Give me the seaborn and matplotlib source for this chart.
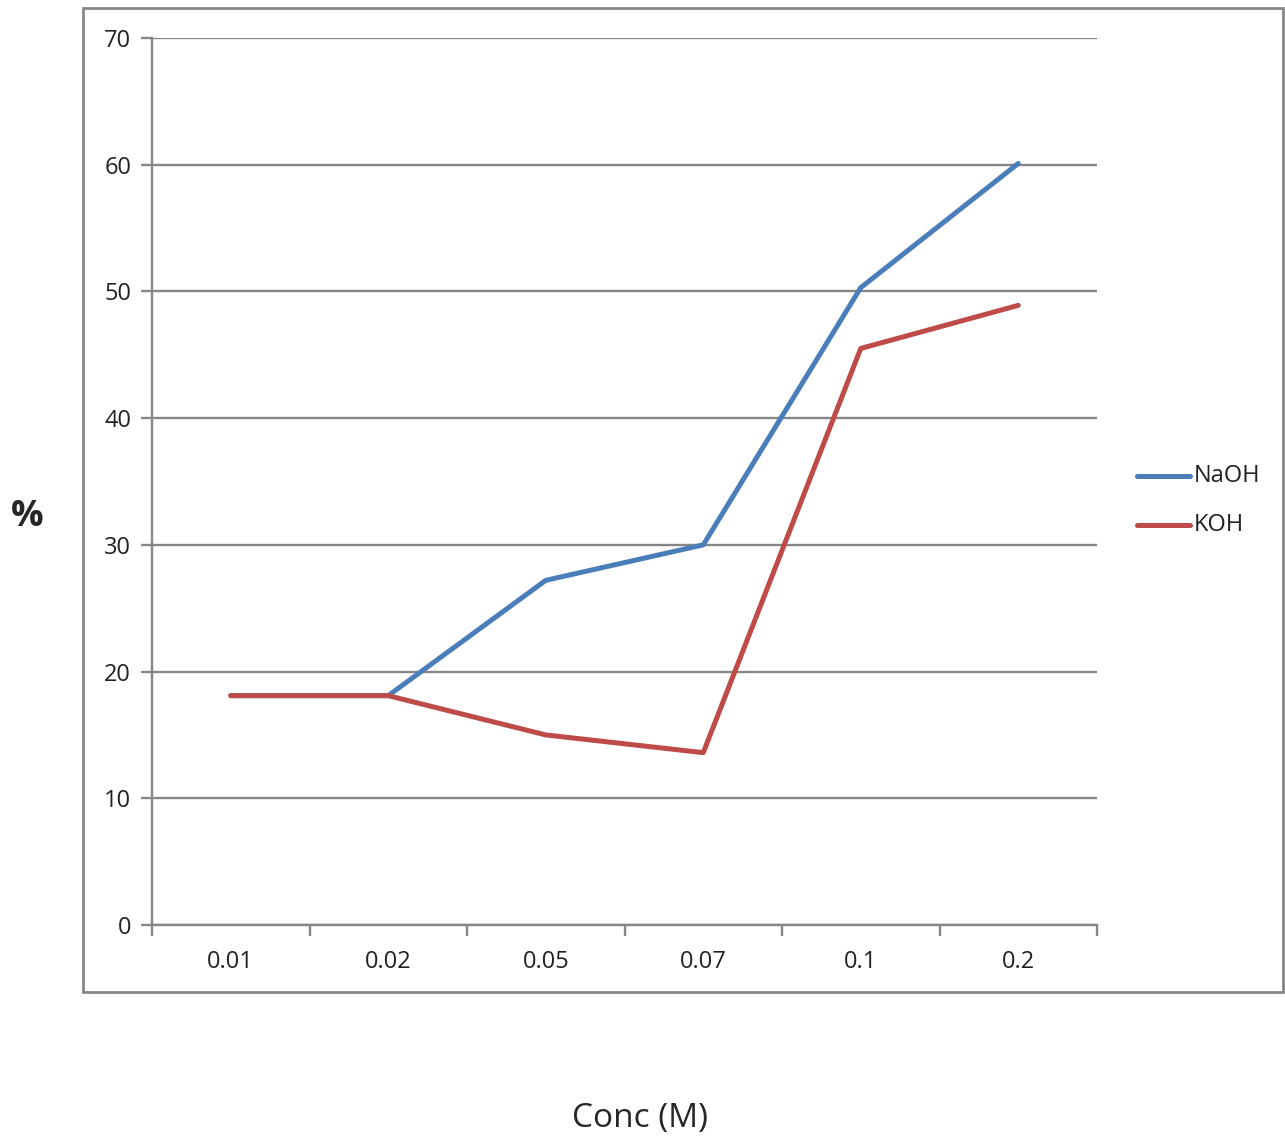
import numpy as np
import pandas as pd
import matplotlib
matplotlib.use("Agg")
import matplotlib.pyplot as plt
import seaborn as sns
from matplotlib.patches import Rectangle

# data
conc_labels = ["0.01", "0.02", "0.05", "0.07", "0.1", "0.2"]
naoh = [18.1, 18.1, 27.2, 30.0, 50.3, 60.1]
koh = [18.1, 18.1, 15.0, 13.6, 45.5, 48.9]
series_names = ["NaOH", "KOH"]
y_ticks = [0, 10, 20, 30, 40, 50, 60, 70]

df = pd.DataFrame({
    "pos": list(range(len(conc_labels))) * 2,
    "value": naoh + koh,
    "series": [series_names[0]] * len(naoh) + [series_names[1]] * len(koh),
})

sns.set_style("white")
plt.rcParams["font.family"] = ["Open Sans", "DejaVu Sans"]

fig = plt.figure(figsize=(12.85, 11.4), dpi=100)
ax = fig.add_axes([152 / 1285, 1 - 925 / 1140, (1097 - 152) / 1285, (925 - 38) / 1140])

grid_col = "#868686"
txt_col = "#222222"
sns.lineplot(data=df, x="pos", y="value", hue="series",
             palette={"NaOH": "#4A7EBB", "KOH": "#BE4B48"},
             linewidth=3.6, ax=ax, legend=False)

ax.set_xlim(-0.5, len(conc_labels) - 0.5)
ax.set_ylim(0, 70)
ax.set_yticks(y_ticks)
ax.set_yticklabels([str(t) for t in y_ticks], fontsize=17, color=txt_col)
ax.yaxis.grid(True, color=grid_col, linewidth=1.7)
ax.set_axisbelow(True)

# category boundaries as major ticks, labels at centres
ax.set_xticks(np.arange(-0.5, len(conc_labels), 1.0))
ax.set_xticklabels([])
ax.set_xticks(np.arange(len(conc_labels)), minor=True)
ax.set_xticklabels(conc_labels, minor=True, fontsize=17, color=txt_col)
ax.tick_params(axis="x", which="major", bottom=True, direction="out",
               length=8, width=1.7, color=grid_col)
ax.tick_params(axis="x", which="minor", bottom=True, length=0, pad=18)
ax.tick_params(axis="y", left=True, direction="out", length=8, width=1.7,
               color=grid_col, pad=7)

for side in ["top", "right"]:
    ax.spines[side].set_visible(False)
for side in ["left", "bottom"]:
    ax.spines[side].set_color(grid_col)
    ax.spines[side].set_linewidth(1.7)

ax.set_xlabel("")
ax.set_ylabel("")

# legend drawn manually in figure coords
for i, (name, col) in enumerate(zip(series_names, ["#4A7EBB", "#BE4B48"])):
    y = 1 - (476 + 49 * i) / 1140
    fig.add_artist(plt.Line2D([1137 / 1285, 1190 / 1285], [y, y], color=col,
                              linewidth=3.6, solid_capstyle="round"))
    fig.text(1194 / 1285, y, name, fontsize=17, va="center", ha="left", color=txt_col)

# outer chart border
fig.add_artist(Rectangle((83 / 1285, 1 - 992 / 1140), (1283 - 83) / 1285, (992 - 8) / 1140,
                         fill=False, edgecolor=grid_col, linewidth=2, transform=fig.transFigure))

fig.text(27 / 1285, 1 - 517 / 1140, "%", fontsize=26, fontweight="bold",
         ha="center", va="center")
fig.text(640 / 1285, 1 - 1118 / 1140, "Conc (M)", fontsize=24, ha="center", va="center")

fig.savefig("out.png", dpi=100)
